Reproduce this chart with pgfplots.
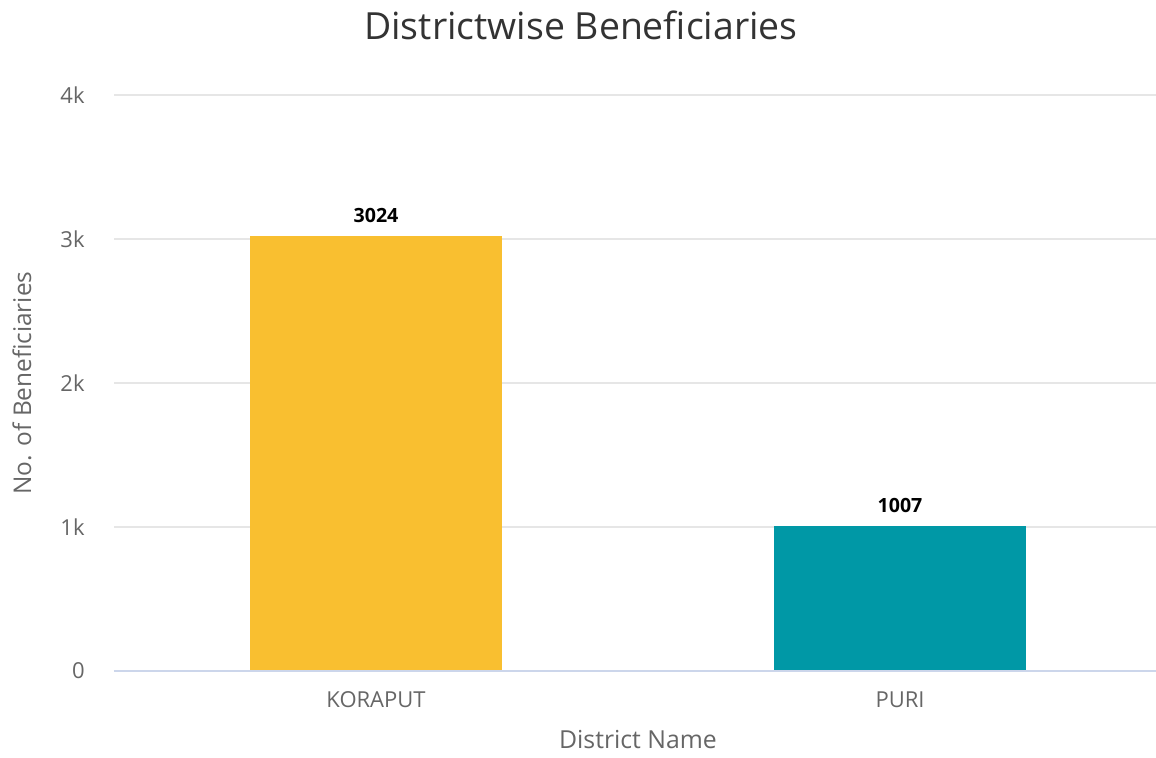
\documentclass[border=0pt]{standalone}
\usepackage{pgfplots}
\pgfplotsset{compat=1.18}
\usepackage{fontspec}
\setmainfont{Open Sans}

\definecolor{korap}{HTML}{F9BF30}
\definecolor{purit}{HTML}{0098A6}
\definecolor{gridc}{HTML}{E6E6E6}
\definecolor{axisc}{HTML}{CCD6EB}
\definecolor{tickc}{HTML}{666666}
\definecolor{titlec}{HTML}{333333}

\begin{document}
\begin{tikzpicture}
% page = 1156x758 px at 0.5pt per px; axis box starts 114px from left, 87px from bottom
\useasboundingbox (-57pt,-43.5pt) rectangle (521pt,335.5pt);
\begin{axis}[
    scale only axis,
    width=524pt, height=288pt,
    xmin=-0.5, xmax=1.5,
    ymin=0, ymax=4000,
    xtick={0,1},
    xticklabels={KORAPUT,PURI},
    ytick={0,1000,2000,3000,4000},
    yticklabels={0,1k,2k,3k,4k},
    scaled y ticks=false,
    major tick length=0pt,
    axis line style={draw=none},
    ymajorgrids=true,
    grid style={gridc, line width=0.6pt},
    /pgf/number format/assume math mode=true,
    tick label style={font=\fontsize{11}{13}\selectfont, text=tickc},
    yticklabel style={anchor=east, inner sep=0pt, xshift=-14.5pt},
    xticklabel style={anchor=center, inner sep=0pt, yshift=-14.5pt},
    xlabel={District Name},
    ylabel={No. of Beneficiaries},
    every axis x label/.style={at={(axis description cs:0.5,-0.1198)}, anchor=center,
        font=\fontsize{12.4}{15}\selectfont, text=tickc},
    every axis y label/.style={at={(axis description cs:-0.0878,0.5)}, rotate=90, anchor=center,
        font=\fontsize{12.2}{15}\selectfont, text=tickc},
    title={Districtwise Beneficiaries},
    every axis title/.style={at={(axis description cs:0.4456,1.1215)}, anchor=center,
        font=\fontsize{18.7}{22}\selectfont, text=titlec},
    ybar, bar width=126pt, bar shift=0pt,
    nodes near coords,
    every node near coord/.append style={anchor=base, yshift=6.75pt,
        font=\bfseries\fontsize{9.8}{12}\selectfont, text=black,
        /pgf/number format/1000 sep={}},
    clip=false,
]
\addplot[draw=none, fill=korap] coordinates {(0,3024)};
\addplot[draw=none, fill=purit] coordinates {(1,1007)};
\draw[axisc, line width=0.8pt] (axis cs:-0.5,0) -- (axis cs:1.5,0);
\end{axis}
\end{tikzpicture}
\end{document}
